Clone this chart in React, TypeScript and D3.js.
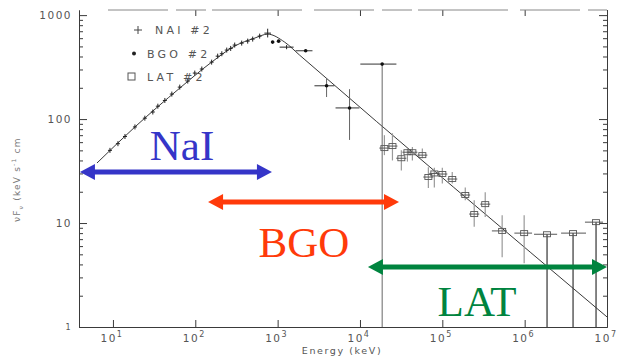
import React, { useRef, useEffect } from "react";
import * as d3 from "d3";

const W = 627;
const H = 357;

// model curve (Band-like fit)
const modelEnergy = [6.4, 18.5, 65, 158, 301, 526, 757, 1216, 1850, 1e7];
const modelFlux = [37.8, 84, 199, 353, 504, 601, 656, 550, 412, 1.25];

// NaI #2 small crosses
const naiEnergy = [9.2, 11.5, 14, 18.5, 24.4, 30.5, 35.1, 42.7, 51.9, 64.8, 81, 98.6, 120, 158, 187, 210, 241, 269, 301, 366, 433, 498, 605];
const naiFlux = [50, 58, 68, 84, 102, 117, 133, 151, 174, 203, 232, 277, 303, 353, 403, 425, 461, 478, 515, 538, 562, 588, 628];

// NaI points near the peak with visible bars
const naiPeakEnergy = [757, 1285];
const naiPeakFlux = [671, 492];
const naiPeakELo = [690, 1057];
const naiPeakEHi = [830, 1563];
const naiPeakFluxLo = [610, 470];
const naiPeakFluxHi = [740, 515];

// BGO #2
const bgoEnergy = [869, 1028, 2190, 3930, 7470, 18600];
const bgoFlux = [550, 562, 454, 209, 128, 338];
const bgoELo = [830, 980, 1650, 2800, 5050, 10100];
const bgoEHi = [910, 1080, 2650, 4900, 9860, 27700];
const bgoFluxLo = [535, 548, 445, 163, 63, 1];
const bgoFluxHi = [565, 578, 465, 248, 194, 338];

// LAT #2
const latEnergy = [19800, 24800, 31800, 37700, 43300, 57200, 67700, 80000, 100000, 132000, 190000, 244000, 332000, 533000, 986000, 1.87e6, 3.87e6, 7.36e6];
const latFlux = [52.6, 55, 42, 48, 48, 45, 27.7, 30, 29.6, 26.5, 18.6, 12.2, 15.2, 8.4, 8.0, 7.8, 8.0, 10.2];
const latFluxLo = [45, 40, 32, 39, 40, 42, 21.7, 22, 24, 24, 16.6, 9.2, 11.4, 4.7, 4.1, 1, 1, 1];
const latFluxHi = [70, 73, 50, 52, 54, 52, 34.5, 34, 34, 31, 22, 16.6, 19.8, 11.9, 11.9, 7.8, 8.0, 10.2];
const latELo = [17200, 21500, 27600, 32800, 37600, 49700, 58800, 69500, 87000, 115000, 165000, 212000, 289000, 400000, 750000, 1.3e6, 2.77e6, 5.4e6];
const latEHi = [22800, 28500, 36600, 43400, 49800, 65800, 77900, 92000, 115000, 152000, 218000, 281000, 382000, 610000, 1.23e6, 2.48e6, 5.56e6, 8.95e6];

// instrument energy coverage (keV), arrow level and label anchor
const bandNames = ["NaI", "BGO", "LAT"];
const bandLo = [3.97, 143, 12500];
const bandHi = [853, 29800, 1e7];
const bandLevel = [31, 15.9, 3.78];
const bandLabelEnergy = [69, 2090, 264000];
const bandLabelFlux = [40, 4.7, 1.27];

const bandColor: Record<string, string> = { NaI: "#3535c8", BGO: "#ff3a0a", LAT: "#00843f" };

const xDecades = [1e1, 1e2, 1e3, 1e4, 1e5, 1e6, 1e7];
const yDecades = [1, 10, 100, 1000];
const yLabels = ["1", "10", "100", "1000"];
const legendNames = ["NAI #2", "BGO #2", "LAT #2"];

export default function App() {
  const ref = useRef<SVGSVGElement>(null);

  useEffect(() => {
    const svg = d3.select(ref.current);
    svg.selectAll("*").remove();

    const left = 79, right = 607, top = 10, bottom = 327;

    const x = d3.scaleLog().domain([3.87, 1e7]).range([left, right]);
    const y = d3.scaleLog().domain([1, 1120]).range([bottom, top]);

    const ink = "#3a3a3a";
    const font = "'DejaVu Sans', sans-serif";

    svg.append("rect").attr("width", W).attr("height", H).attr("fill", "#fff");

    const minorY: number[] = [];
    [1, 10, 100].forEach((d) => {
      for (let k = 2; k <= 9; k++) minorY.push(d * k);
    });

    // left axis
    svg.append("g")
      .attr("transform", `translate(${left},0)`)
      .call(d3.axisLeft(y).tickValues(minorY).tickSizeInner(-4).tickSizeOuter(0).tickFormat(() => ""));
    const gl = svg.append("g")
      .attr("transform", `translate(${left},0)`)
      .call(d3.axisLeft(y).tickValues(yDecades).tickSizeInner(-8).tickSizeOuter(0).tickPadding(7)
        .tickFormat((d, i) => yLabels[i]));
    gl.selectAll("text").attr("font-family", font).attr("fill", "#555")
      .attr("letter-spacing", 1.5)
      .attr("font-size", (d: any) => (d === 1 ? 8 : 10.5));

    // right axis
    svg.append("g")
      .attr("transform", `translate(${right},0)`)
      .call(d3.axisRight(y).tickValues(minorY).tickSizeInner(-4).tickSizeOuter(0).tickFormat(() => ""));
    svg.append("g")
      .attr("transform", `translate(${right},0)`)
      .call(d3.axisRight(y).tickValues(yDecades).tickSizeInner(-8).tickSizeOuter(0).tickFormat(() => ""));

    // bottom axis
    svg.append("g")
      .attr("transform", `translate(0,${bottom})`)
      .call(d3.axisBottom(x).tickValues(xDecades).tickSizeInner(-7).tickSizeOuter(0).tickFormat(() => ""));

    // top axis (scanned, broken line starting right of the y axis)
    const gt = svg.append("g")
      .attr("transform", `translate(0,${top})`)
      .call(d3.axisTop(x).tickValues(xDecades.slice(1)).tickSizeInner(-6).tickSizeOuter(0).tickFormat(() => ""));
    gt.select(".domain").remove();
    gt.append("line").attr("x1", 108).attr("x2", right).attr("y1", 0).attr("y2", 0)
      .attr("stroke", "#888").attr("stroke-dasharray", "60 8 30 6 90 12");

    svg.selectAll(".domain").attr("stroke", ink);
    svg.selectAll(".tick line").attr("stroke", ink);

    // x tick labels 10^n
    const xl = svg.append("g").attr("font-family", font).attr("fill", "#555").attr("font-size", 10.5);
    xDecades.forEach((d) => {
      const t = xl.append("text").attr("x", x(d) - 1).attr("y", bottom + 15).attr("text-anchor", "middle")
        .attr("letter-spacing", 1.5);
      t.append("tspan").text("10");
      t.append("tspan").attr("dy", -5).attr("font-size", 8).text(String(Math.round(Math.log10(d))));
    });

    svg.append("text").attr("x", 342).attr("y", bottom + 27).attr("text-anchor", "middle")
      .attr("font-family", font).attr("font-size", 9.5).attr("fill", "#555").attr("letter-spacing", 1.6)
      .text("Energy (keV)");

    // y title
    const yt = svg.append("text").attr("transform", "translate(20,222) rotate(-90)")
      .attr("font-family", font).attr("font-size", 9).attr("fill", "#777").attr("letter-spacing", 1.2);
    yt.append("tspan").text("\u03bdF");
    yt.append("tspan").attr("dy", 3).attr("font-size", 6).text("\u03bd");
    yt.append("tspan").attr("dy", -3).text(" (keV s");
    yt.append("tspan").attr("dy", -4).attr("font-size", 6).text("-1");
    yt.append("tspan").attr("dy", 4).text(" cm");

    // model curve
    const line = d3.line<number>()
      .x((d, i) => x(modelEnergy[i]))
      .y((d) => y(d))
      .curve(d3.curveMonotoneX);
    svg.append("path").attr("d", line(modelFlux)).attr("fill", "none").attr("stroke", "#222").attr("stroke-width", 0.9);

    // LAT error bars + squares
    const lat = svg.append("g");
    latEnergy.forEach((e, i) => {
      lat.append("line").attr("x1", x(e)).attr("x2", x(e)).attr("y1", y(latFluxLo[i])).attr("y2", y(latFluxHi[i]))
        .attr("stroke", i >= 15 ? "#333" : "#999").attr("stroke-width", 1.2);
      lat.append("line").attr("x1", x(latELo[i])).attr("x2", x(latEHi[i])).attr("y1", y(latFlux[i])).attr("y2", y(latFlux[i]))
        .attr("stroke", "#555").attr("stroke-width", 1);
      lat.append("rect").attr("x", x(e) - 3.5).attr("y", y(latFlux[i]) - 2.5).attr("width", 7).attr("height", 5)
        .attr("fill", "none").attr("stroke", "#555").attr("stroke-width", 0.9);
    });

    // BGO
    const bgo = svg.append("g");
    bgoEnergy.forEach((e, i) => {
      bgo.append("line").attr("x1", x(e)).attr("x2", x(e)).attr("y1", y(bgoFluxLo[i])).attr("y2", y(bgoFluxHi[i]))
        .attr("stroke", i >= 3 ? "#666" : "#222").attr("stroke-width", 1);
      bgo.append("line").attr("x1", x(bgoELo[i])).attr("x2", x(bgoEHi[i])).attr("y1", y(bgoFlux[i])).attr("y2", y(bgoFlux[i]))
        .attr("stroke", "#333").attr("stroke-width", 1);
      bgo.append("circle").attr("cx", x(e)).attr("cy", y(bgoFlux[i])).attr("r", 1.8).attr("fill", "#111");
    });

    // NaI
    const nai = svg.append("g").attr("stroke", "#222").attr("stroke-width", 1);
    naiEnergy.forEach((e, i) => {
      const cx = x(e), cy = y(naiFlux[i]);
      nai.append("line").attr("x1", cx - 2).attr("x2", cx + 2).attr("y1", cy).attr("y2", cy);
      nai.append("line").attr("x1", cx).attr("x2", cx).attr("y1", cy - 2.5).attr("y2", cy + 2.5);
    });
    naiPeakEnergy.forEach((e, i) => {
      nai.append("line").attr("x1", x(naiPeakELo[i])).attr("x2", x(naiPeakEHi[i]))
        .attr("y1", y(naiPeakFlux[i])).attr("y2", y(naiPeakFlux[i]));
      nai.append("line").attr("x1", x(e)).attr("x2", x(e))
        .attr("y1", y(naiPeakFluxLo[i])).attr("y2", y(naiPeakFluxHi[i]));
    });

    // legend
    const lg = svg.append("g").attr("font-family", font).attr("font-size", 11).attr("fill", "#555");
    legendNames.forEach((n, i) => {
      const ly = 30 + i * 23.5;
      if (i === 0) {
        lg.append("line").attr("x1", 134).attr("x2", 142).attr("y1", ly).attr("y2", ly).attr("stroke", "#444");
        lg.append("line").attr("x1", 138).attr("x2", 138).attr("y1", ly - 4).attr("y2", ly + 4).attr("stroke", "#444");
      } else if (i === 1) {
        lg.append("circle").attr("cx", 134).attr("cy", ly).attr("r", 2).attr("fill", "#222");
      } else {
        lg.append("rect").attr("x", 128).attr("y", ly - 4).attr("width", 7).attr("height", 7)
          .attr("fill", "none").attr("stroke", "#555");
      }
      lg.append("text").attr("x", i === 0 ? 155 : 147).attr("y", ly + 4).attr("letter-spacing", 3.2).text(n);
    });

    // instrument ranges
    const head = 15, half = 8;
    bandNames.forEach((n, i) => {
      const c = bandColor[n];
      const x1 = x(bandLo[i]), x2 = x(bandHi[i]), yy = y(bandLevel[i]);
      const g = svg.append("g");
      g.append("line").attr("x1", x1 + head - 1).attr("x2", x2 - head + 1).attr("y1", yy).attr("y2", yy)
        .attr("stroke", c).attr("stroke-width", 5);
      g.append("path").attr("d", `M${x1},${yy}L${x1 + head},${yy - half}L${x1 + head},${yy + half}Z`).attr("fill", c);
      g.append("path").attr("d", `M${x2},${yy}L${x2 - head},${yy - half}L${x2 - head},${yy + half}Z`).attr("fill", c);
      g.append("text").attr("x", x(bandLabelEnergy[i])).attr("y", y(bandLabelFlux[i]))
        .attr("text-anchor", "middle").attr("font-family", "'Liberation Serif', 'Times New Roman', serif")
        .attr("font-size", 43).attr("fill", c).text(n);
    });
  }, []);

  return (
    <svg ref={ref} width={W} height={H} style={{ position: "fixed", left: 0, top: 0, display: "block" }} />
  );
}
